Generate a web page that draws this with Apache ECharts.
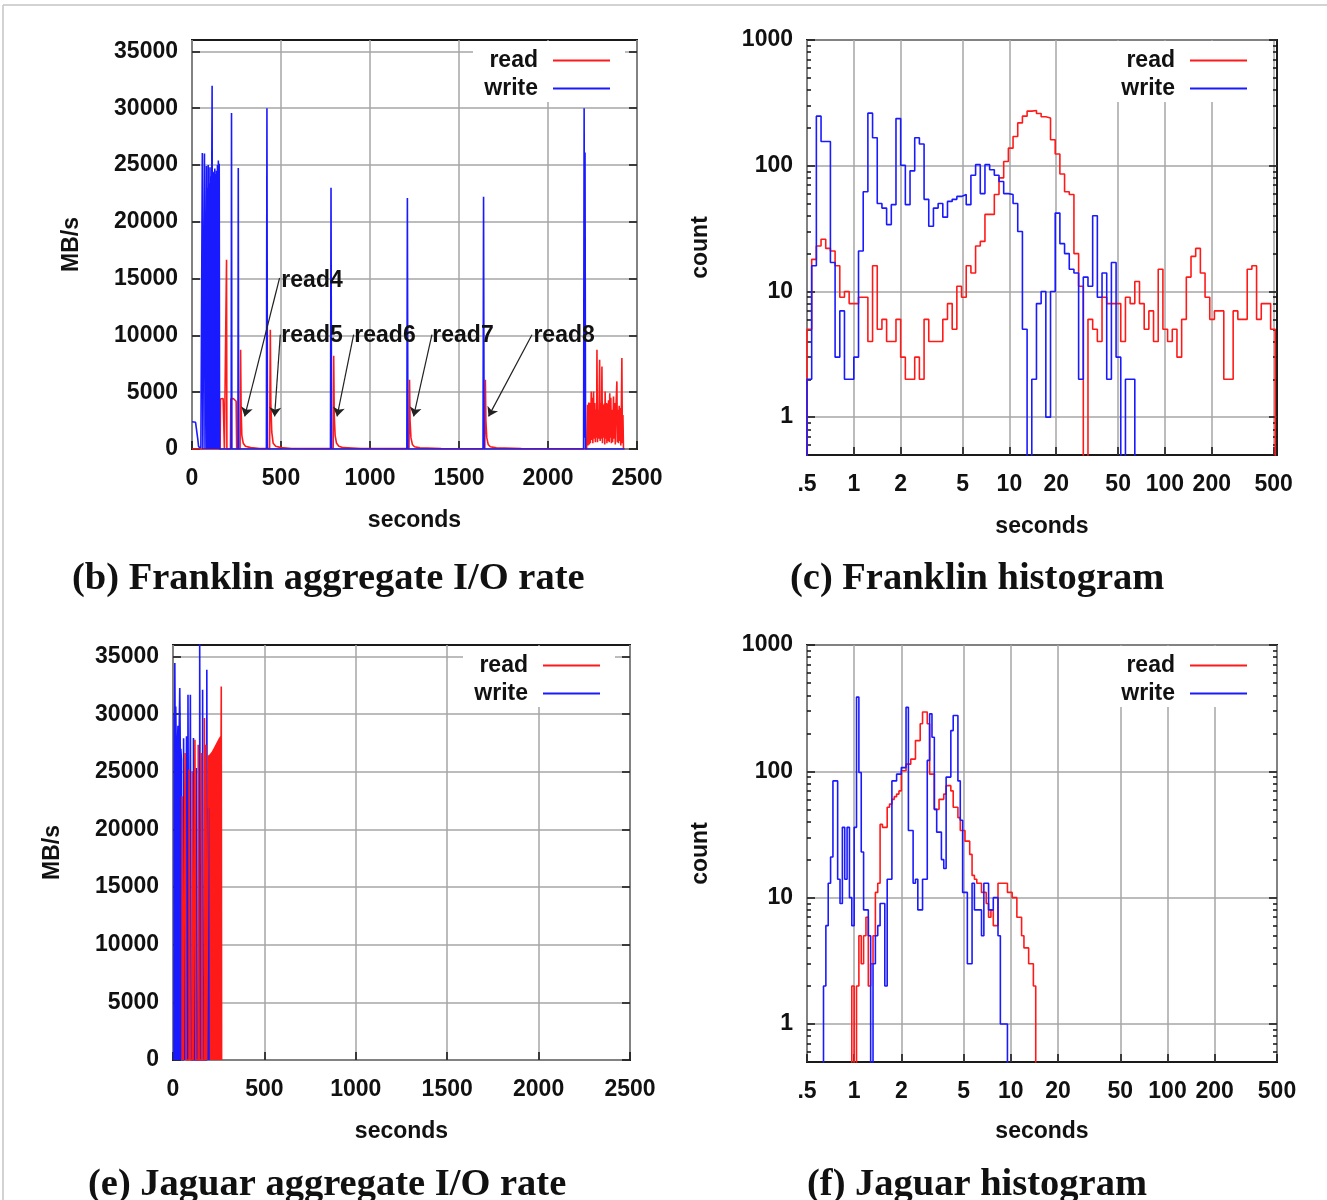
<!DOCTYPE html>
<html>
<head>
<meta charset="utf-8">
<script src="https://cdn.jsdelivr.net/npm/echarts@6/dist/echarts.min.js"></script>
<style>
html, body { margin: 0; padding: 0; background: #fff; }
#chart { width: 1327px; height: 1200px; }
</style>
</head>
<body>
<div id="chart"></div>
<script>
// ---------- data ----------

// (b) Franklin aggregate I/O rate, [seconds, MB/s]
const franklinRead = [
  [0, 0], [158, 0], [160, 4400], [165, 4500], [170, 4400], [175, 4450], [180, 4300], [182, 0],
  [192, 0], [194, 16660], [196, 0],
  [216, 0], [218, 4400], [225, 4300], [232, 4450], [240, 4350], [248, 4200], [251, 0],
  [270, 0], [273, 8740], [276, 3500], [280, 1200], [288, 500], [300, 250], [330, 120], [380, 40],
  [436, 30], [440, 10500], [443, 4000], [448, 1500], [456, 500], [470, 250], [500, 120], [560, 40],
  [793, 30], [796, 8200], [799, 3000], [804, 1200], [812, 500], [825, 250], [850, 120], [950, 40],
  [1219, 30], [1222, 6100], [1225, 2500], [1230, 1000], [1238, 400], [1250, 200], [1280, 100], [1400, 30],
  [1645, 20], [1648, 6100], [1651, 2500], [1656, 1000], [1664, 400], [1676, 200], [1710, 100], [1850, 30],
  [2217, 10], [2219, 0], [2222, 3900], [2225, 300], [2229, 4100], [2232, 400], [2234, 4050], [2238, 500],
  [2243, 5070], [2246, 800], [2249, 4500], [2252, 500], [2256, 5070], [2259, 900], [2263, 4050], [2266, 600],
  [2270, 3500], [2273, 1000], [2275, 8740], [2278, 600], [2281, 3400], [2284, 900], [2287, 4000], [2290, 7860],
  [2293, 700], [2297, 4050], [2300, 900], [2303, 7270], [2306, 500], [2309, 3900], [2312, 1000], [2316, 4000],
  [2319, 400], [2321, 5070], [2325, 900], [2328, 4050], [2331, 500], [2334, 4000], [2337, 700], [2340, 4300],
  [2344, 600], [2347, 4900], [2350, 1000], [2353, 4500], [2356, 500], [2359, 3460], [2363, 600], [2368, 4630],
  [2371, 900], [2375, 4050], [2378, 400], [2382, 3700], [2387, 5950], [2390, 600], [2393, 3460], [2396, 500],
  [2400, 3800], [2403, 700], [2406, 3600], [2409, 300], [2412, 3400], [2415, 8010], [2418, 500], [2421, 3000],
  [2424, 0]
];
const franklinWrite = [
  [0, 2400], [8, 2450], [20, 2350], [28, 2200], [33, 800], [37, 200], [50, 100], [56, 0],
  [58, 26060], [61, 0], [66, 0], [70, 26000], [73, 0], [78, 0], [81, 24900], [83, 0],
  [86, 23000], [88, 0], [91, 25000], [93, 0], [96, 23400], [98, 0], [101, 24800], [103, 0],
  [106, 24000], [108, 0], [111, 24600], [113, 31980], [115, 0], [118, 24300], [120, 0],
  [123, 24400], [125, 0], [128, 24700], [130, 0], [133, 24200], [135, 0], [138, 24500], [140, 0],
  [143, 25000], [145, 0], [148, 25400], [150, 0], [153, 25100], [155, 0],
  [220, 0], [222, 29580], [224, 0], [258, 0], [260, 24740], [262, 0],
  [418, 0], [421, 30000], [424, 0], [778, 0], [781, 23000], [784, 0],
  [1207, 0], [1210, 22100], [1213, 0], [1635, 0], [1638, 22200], [1641, 0],
  [2200, 0], [2203, 30000], [2206, 1000], [2208, 26100], [2211, 0], [2430, 0]
];
// arrows: label anchor, arrow start, arrow tip (seconds, MB/s)
const franklinNotes = [
  { name: 'read4', label: [502, 14850], from: [492, 15050], to: [296, 2870] },
  { name: 'read5', label: [502, 10000], from: [496, 10060], to: [464, 2870] },
  { name: 'read6', label: [912, 10000], from: [908, 10060], to: [815, 2870] },
  { name: 'read7', label: [1350, 10000], from: [1348, 10060], to: [1245, 2870] },
  { name: 'read8', label: [1918, 10000], from: [1910, 10060], to: [1666, 2870] }
];

// (c) Franklin histogram, counts per log bin (10 bins per octave starting at 0.5 s)
const franklinHistRead = [
  5, 18, 23, 26, 22, 21, 16, 9, 10, 8,
  8, 9, 9, 4, 16, 5, 6, 4, 4, 6,
  3, 2, 2, 3, 2, 6, 4, 4, 4, 6,
  8, 5, 11, 9, 16, 14, 23, 25, 41, 41,
  59, 80, 108, 138, 171, 219, 248, 272, 275, 260,
  245, 240, 161, 124, 86, 62, 59, 20, 11, 0,
  6, 5, 4, 9, 8, 8, 8, 4, 9, 8,
  12, 8, 5, 7, 4, 15, 5, 4, 5, 3,
  6, 13, 19, 22, 14, 9, 6, 7, 7, 2,
  2, 7, 6, 6, 15, 16, 6, 8, 8, 5
];
const franklinHistWrite = [
  2, 16, 248, 156, 156, 17, 3, 7, 2, 2,
  3, 21, 62, 262, 167, 50, 46, 34, 49, 237,
  101, 49, 91, 167, 149, 54, 33, 46, 50, 39,
  52, 54, 57, 59, 49, 84, 102, 60, 102, 93,
  84, 75, 60, 59, 50, 30, 5, 0, 2, 8,
  10, 1, 10, 42, 24, 20, 15, 14, 2, 13,
  11, 40, 9, 14, 2, 17, 3, 0, 2, 2
];

// (e) Jaguar aggregate I/O rate
const jaguarWriteBurst = [
  [5, 0], [6, 30000], [8, 27000], [10, 34440], [12, 27500], [15, 30670], [18, 26650], [21, 28000],
  [24, 26800], [27, 29000], [30, 26650], [33, 27500], [37, 32270], [40, 26650], [43, 27000], [46, 26000], [47, 0]
];
// [start s, end s, MB/s]
const jaguarWritePulses = [
  [58, 64, 27920], [74, 80, 28080], [82, 87, 31690], [95, 100, 31690], [112, 117, 27930],
  [128, 133, 25330], [146, 151, 36500], [162, 166, 32120], [185, 189, 33860], [194, 197, 21860]
];
const jaguarReadPulses = [
  [50, 56, 22870], [66, 72, 26630], [88, 94, 25190], [105, 110, 25040], [120, 125, 27790],
  [138, 143, 27350], [156, 161, 26630], [172, 176, 29670], [180, 184, 27350]
];
const jaguarReadBurst = [
  [194, 0], [194, 26340], [205, 26500], [215, 26700], [225, 27000], [235, 27300], [245, 27600],
  [255, 27900], [263, 28080], [264, 32410], [266, 32410], [266, 0]
];

// (f) Jaguar histogram, counts per log bin (20 bins per octave starting at 0.5 s)
const jaguarWriteFirstBin = 7;
const jaguarHistWrite = [
  2, 6, 13, 21, 84, 84, 14, 9, 36, 14,
  36, 10, 6, 36, 387, 98, 23, 8, 8, 5,
  0, 3, 5, 6, 9, 9, 2, 14, 14, 84,
  84, 95, 95, 107, 107, 321, 34, 34, 13, 14,
  8, 8, 14, 14, 122, 285, 186, 50, 33, 33,
  20, 17, 90, 90, 210, 277, 277, 84, 41, 11,
  11, 3, 3, 13, 8, 8, 8, 5, 13, 13,
  8, 8, 10, 10, 5, 1, 1, 1
];
const jaguarReadFirstBin = 19;
const jaguarHistRead = [
  2, 0, 2, 5, 3, 5, 7, 2, 3, 5,
  11, 13, 38, 36, 36, 52, 55, 60, 63, 66,
  70, 101, 101, 114, 114, 125, 125, 175, 175, 238,
  295, 295, 238, 95, 95, 50, 50, 60, 60, 66,
  77, 77, 70, 52, 52, 43, 34, 34, 28, 28,
  22, 15, 14, 13, 13, 11, 11, 9, 7, 8,
  6, 6, 13, 13, 13, 13, 11, 11, 10, 10,
  7, 7, 5, 4, 4, 3, 3, 2
];

// tick values
const rateTicks = [0, 5000, 10000, 15000, 20000, 25000, 30000, 35000];
const secTicks = [0, 500, 1000, 1500, 2000, 2500];
const logSecTicks = [0.5, 1, 2, 5, 10, 20, 50, 100, 200, 500];
const countTicks = [1, 10, 100, 1000];
const countMinorTicks = [0.6, 0.7, 0.8, 0.9, 2, 3, 4, 5, 6, 7, 8, 9, 20, 30, 40, 50, 60, 70, 80, 90,
  200, 300, 400, 500, 600, 700, 800, 900];

// ---------- helpers ----------
const SANS = 'Liberation Sans';
const RED = '#ff1a1a';
const BLUE = '#1a1aff';
const ZERO = 0.05; // empty bins fall below the log axis
const txt = { fontFamily: SANS, fontSize: 23, fontWeight: 'bold', color: '#111' };

const xAxes = [];
const yAxes = [];
function addX(a) { xAxes.push(a); return xAxes.length - 1; }
function addY(a) { yAxes.push(a); return yAxes.length - 1; }

function tickOnly(gridIndex, type, min, max, position, values, len) {
  return {
    type: type, gridIndex: gridIndex, min: min, max: max, position: position,
    axisLine: { show: false },
    axisTick: { show: true, inside: true, length: len, customValues: values, lineStyle: { color: '#111', width: 1.5 } },
    axisLabel: { show: false },
    splitLine: { show: false }
  };
}

function mainAxis(gridIndex, type, min, max, position, values, name, nameGap, fmt) {
  const isX = position === 'bottom';
  return {
    type: type, gridIndex: gridIndex, min: min, max: max, position: position,
    name: name, nameLocation: 'middle', nameGap: nameGap, nameTextStyle: txt,
    axisLine: { show: false },
    axisTick: { show: true, inside: true, length: 8, customValues: values, lineStyle: { color: '#111', width: 1.5 } },
    axisLabel: Object.assign({ show: true, customValues: values, margin: isX ? 18 : 14, formatter: fmt }, txt),
    splitLine: { show: true, lineStyle: { color: '#a6a6a6', width: 1.5 } }
  };
}

function secFmt(v) { return Math.abs(v - 0.5) < 1e-6 ? '.5' : String(Math.round(v)); }
function plainFmt(v) { return String(Math.round(v)); }

function histPoints(counts, firstBin, perOctave) {
  const edge = k => 0.5 * Math.pow(2, k / perOctave);
  const pts = [[edge(firstBin), ZERO]];
  counts.forEach((c, i) => pts.push([edge(firstBin + i), c > 0 ? c : ZERO]));
  pts.push([edge(firstBin + counts.length), ZERO]);
  return pts;
}

function pulsePoints(pulses) {
  const pts = [];
  pulses.forEach(p => { pts.push([p[0], 0], [p[0], p[2]], [p[1], p[2]], [p[1], 0]); });
  return pts;
}

function line(name, color, data, xi, yi, extra) {
  return Object.assign({
    type: 'line', name: name, data: data, xAxisIndex: xi, yAxisIndex: yi,
    showSymbol: false, symbol: 'none', animation: false, clip: true,
    lineStyle: { color: color, width: 1.6 }, itemStyle: { color: color }
  }, extra || {});
}

function legendAt(left, top) {
  return {
    data: ['read', 'write'], orient: 'vertical', left: left, top: top,
    icon: 'rect', itemWidth: 57, itemHeight: 2, itemGap: 5, align: 'right',
    backgroundColor: '#fff', padding: [8, 15, 2, 3], selectedMode: false,
    formatter: n => '{t|' + n + '}',
    textStyle: { rich: { t: Object.assign({ width: 62, align: 'right', padding: [0, 10, 0, 0], lineHeight: 24 }, txt) } }
  };
}

const grids = [
  { left: 192, top: 40, width: 445, height: 409 },   // b
  { left: 807, top: 40, width: 470, height: 415 },   // c
  { left: 173, top: 645, width: 457, height: 415 },  // e
  { left: 807, top: 645, width: 470, height: 417 }   // f
].map(g => Object.assign({ show: true, borderColor: '#1a1a1a', borderWidth: 2, containLabel: false, outerBoundsMode: 'none' }, g));

// (b)
const bx = addX(mainAxis(0, 'value', 0, 2500, 'bottom', secTicks, 'seconds', 60, plainFmt));
const by = addY(mainAxis(0, 'value', 0, 36000, 'left', rateTicks, 'MB/s', 109, plainFmt));
addY(tickOnly(0, 'value', 0, 36000, 'right', rateTicks, 8));
// (c)
const cx = addX(mainAxis(1, 'log', 0.5, 525, 'bottom', logSecTicks, 'seconds', 60, secFmt));
const cy = addY(mainAxis(1, 'log', 0.5, 1000, 'left', countTicks, 'count', 95, plainFmt));
addY(tickOnly(1, 'log', 0.5, 1000, 'left', countMinorTicks, 4));
addY(tickOnly(1, 'log', 0.5, 1000, 'right', countTicks, 8));
addY(tickOnly(1, 'log', 0.5, 1000, 'right', countMinorTicks, 4));
// (e)
const ex = addX(mainAxis(2, 'value', 0, 2500, 'bottom', secTicks, 'seconds', 60, plainFmt));
const ey = addY(mainAxis(2, 'value', 0, 36000, 'left', rateTicks, 'MB/s', 109, plainFmt));
addY(tickOnly(2, 'value', 0, 36000, 'right', rateTicks, 8));
// (f)
const fx = addX(mainAxis(3, 'log', 0.5, 500, 'bottom', logSecTicks, 'seconds', 58, secFmt));
const fy = addY(mainAxis(3, 'log', 0.5, 1000, 'left', countTicks, 'count', 95, plainFmt));
addY(tickOnly(3, 'log', 0.5, 1000, 'left', countMinorTicks, 4));
addY(tickOnly(3, 'log', 0.5, 1000, 'right', countTicks, 8));
addY(tickOnly(3, 'log', 0.5, 1000, 'right', countMinorTicks, 4));

const series = [
  line('read', RED, franklinRead, bx, by, {
    markLine: {
      silent: true, animation: false, symbol: ['none', 'arrow'], symbolSize: 9,
      label: { show: false }, lineStyle: { color: '#222', width: 1.2, type: 'solid' },
      data: franklinNotes.map(n => [{ coord: n.from }, { coord: n.to }])
    },
    markPoint: {
      silent: true, animation: false, symbol: 'circle', symbolSize: 0,
      data: franklinNotes.map(n => ({ name: n.name, coord: n.label })),
      label: Object.assign({ show: true, formatter: '{b}', position: 'right', distance: 0 }, txt)
    }
  }),
  line('write', BLUE, franklinWrite, bx, by),
  line('read', RED, histPoints(franklinHistRead, 0, 10), cx, cy, { step: 'end' }),
  line('write', BLUE, histPoints(franklinHistWrite, 0, 10), cx, cy, { step: 'end' }),
  line('write', BLUE, jaguarWriteBurst.concat(pulsePoints(jaguarWritePulses)), ex, ey,
    { areaStyle: { color: BLUE, opacity: 1 } }),
  line('read', RED, pulsePoints(jaguarReadPulses).concat(jaguarReadBurst), ex, ey,
    { areaStyle: { color: RED, opacity: 1 } }),
  line('read', RED, histPoints(jaguarHistRead, jaguarReadFirstBin, 20), fx, fy, { step: 'end' }),
  line('write', BLUE, histPoints(jaguarHistWrite, jaguarWriteFirstBin, 20), fx, fy, { step: 'end' })
];

const capStyle = { fontFamily: 'Liberation Serif', fontWeight: 'bold', fontSize: 38.5, color: '#111', lineHeight: 38 };
const titles = [
  { text: '(b) Franklin aggregate I/O rate', left: 72, top: 560 },
  { text: '(c) Franklin histogram', left: 790, top: 560 },
  { text: '(e) Jaguar aggregate I/O rate', left: 88, top: 1166 },
  { text: '(f) Jaguar histogram', left: 807, top: 1166 }
].map(t => Object.assign({ padding: 0, textStyle: capStyle }, t));

const chart = echarts.init(document.getElementById('chart'), null, { renderer: 'canvas' });
chart.setOption({
  backgroundColor: '#fff',
  animation: false,
  title: titles,
  grid: grids,
  xAxis: xAxes,
  yAxis: yAxes,
  legend: [legendAt(473, 41), legendAt(1110, 41), legendAt(463, 646), legendAt(1110, 646)],
  graphic: [
    { type: 'line', shape: { x1: 3, y1: 5, x2: 1327, y2: 5 }, style: { stroke: '#c4c4c4', lineWidth: 1.5 } },
    { type: 'line', shape: { x1: 3, y1: 5, x2: 3, y2: 1200 }, style: { stroke: '#c4c4c4', lineWidth: 1.5 } }
  ],
  series: series
});
</script>
</body>
</html>
